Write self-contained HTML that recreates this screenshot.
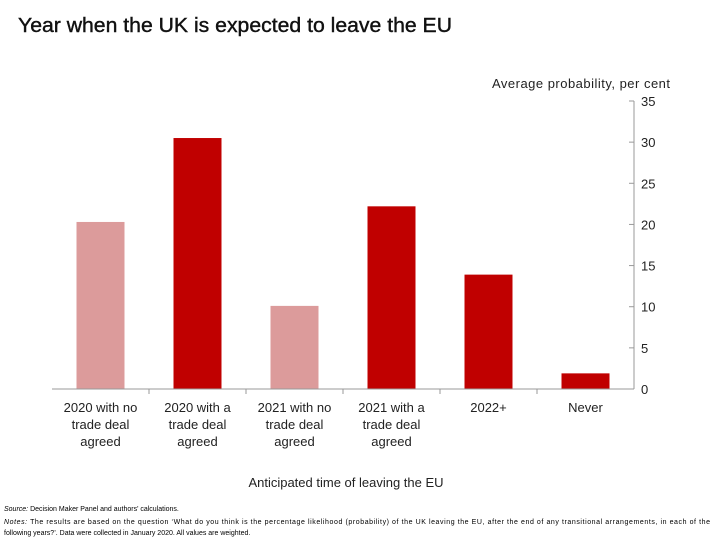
<!DOCTYPE html>
<html><head><meta charset="utf-8"><style>
body{margin:0;background:#fff;}
svg{display:block;font-family:"Liberation Sans",Arial,sans-serif;}
</style></head><body>
<svg id="chart" width="720" height="540" xmlns="http://www.w3.org/2000/svg">
<text x="18" y="32" font-size="20" fill="#111" stroke="#111" stroke-width="0.4" textLength="434" lengthAdjust="spacingAndGlyphs">Year when the UK is expected to leave the EU</text>
<text x="492" y="88" font-size="13" fill="#222" textLength="178" lengthAdjust="spacing">Average probability, per cent</text>
<text x="346" y="487" font-size="13" text-anchor="middle" fill="#222">Anticipated time of leaving the EU</text>
<text x="4" y="511" font-size="7" fill="#000"><tspan font-style="italic">Source:</tspan> Decision Maker Panel and authors' calculations.</text>
<text x="4" y="524" font-size="7" fill="#000" textLength="706" lengthAdjust="spacing"><tspan font-style="italic">Notes:</tspan> The results are based on the question ‘What do you think is the percentage likelihood (probability) of the UK leaving the EU, after the end of any transitional arrangements, in each of the</text>
<text x="4" y="535" font-size="7" fill="#000">following years?’. Data were collected in January 2020. All values are weighted.</text>
<g id="plot"></g>
</svg>
<script>
const categories = [["2020 with no","trade deal","agreed"],["2020 with a","trade deal","agreed"],["2021 with no","trade deal","agreed"],["2021 with a","trade deal","agreed"],["2022+"],["Never"]];
const values = [20.3, 30.5, 10.1, 22.2, 13.9, 1.9];
const barColors = ["#dc9b9b","#c00000","#dc9b9b","#c00000","#c00000","#c00000"];
const yTicks = [0,5,10,15,20,25,30,35];

const NS="http://www.w3.org/2000/svg";
const g=document.getElementById('plot');
const x0=52,x1=634,y0=389,yTop=101,yMax=35;
const bw=(x1-x0)/categories.length;
const y=v=>y0-(v/yMax)*(y0-yTop);
const xc=i=>x0+bw*(i+0.5);
function el(t,a){const e=document.createElementNS(NS,t);for(const k in a)e.setAttribute(k,a[k]);g.appendChild(e);return e;}
values.forEach((v,i)=>{
  const r=el('rect',{x:xc(i)-24,y:y(v),width:48,height:y0-y(v),fill:barColors[i]});
  
  
});
const base=el('line',{x1:x0,x2:x1,y1:y0,y2:y0,stroke:'#999','stroke-width':1});


const ax=el('line',{x1:x1,x2:x1,y1:yTop,y2:y0,stroke:'#999','stroke-width':1});


yTicks.forEach(t=>{
  const tk=el('line',{x1:x1-5,x2:x1,y1:y(t),y2:y(t),stroke:'#999'});
  
  
  const lb=el('text',{x:641,y:y(t)+5,'font-size':13,fill:'#222'});
  lb.textContent=t;
  
  
});
for(let i=1;i<categories.length;i++){
  const tk=el('line',{x1:x0+bw*i,x2:x0+bw*i,y1:y0,y2:y0+5,stroke:'#999'});
  
  
}
categories.forEach((c,i)=>{
  c.forEach((ln,j)=>{
    const t=el('text',{x:xc(i),y:412+j*17,'font-size':13,'text-anchor':'middle',fill:'#222'});
    t.textContent=ln;
    
    
  });
});
</script>
</body></html>
